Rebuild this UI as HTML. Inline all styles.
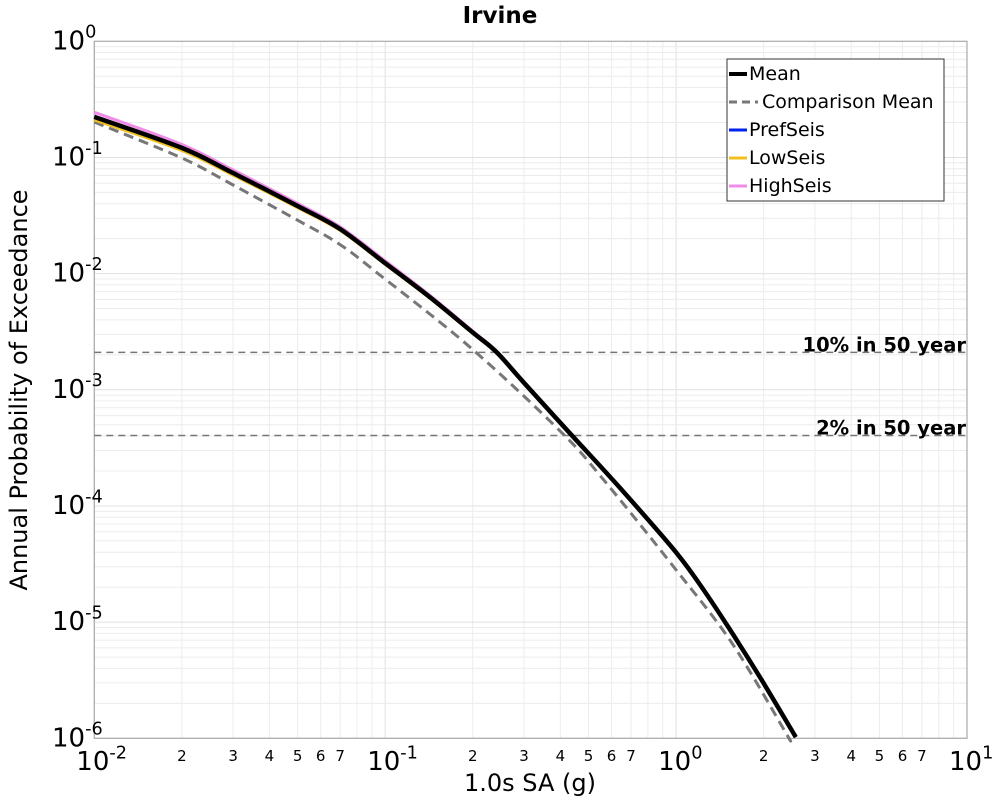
<!DOCTYPE html>
<html><head><meta charset="utf-8"><style>
body{margin:0;background:#fff;font-family:"DejaVu Sans","Liberation Sans",sans-serif;}
svg text{font-family:"DejaVu Sans","Liberation Sans",sans-serif;}
</style></head><body>
<svg id="chart" width="1000" height="800">
<g id="grid"></g><g id="axes"></g><g id="series"></g>
<text x="500" y="23" text-anchor="middle" font-size="23" font-weight="bold">Irvine</text>
<text x="530" y="791" text-anchor="middle" font-size="24">1.0s SA (g)</text>
<text transform="translate(27,390) rotate(-90)" text-anchor="middle" font-size="24">Annual Probability of Exceedance</text>
<g>
<rect x="727" y="59" width="217" height="142" fill="#fff" stroke="#333" stroke-width="1"/>
<line x1="729" y1="74" x2="747" y2="74" stroke="#000" stroke-width="4"/><text x="749" y="80" font-size="19">Mean</text>
<line x1="729" y1="102" x2="758" y2="102" stroke="#777" stroke-width="3" stroke-dasharray="8,5"/><text x="762" y="108" font-size="19">Comparison Mean</text>
<line x1="729" y1="130" x2="747" y2="130" stroke="#0022ee" stroke-width="3"/><text x="749" y="136" font-size="19">PrefSeis</text>
<line x1="729" y1="158" x2="747" y2="158" stroke="#f0c020" stroke-width="3"/><text x="749" y="164" font-size="19">LowSeis</text>
<line x1="729" y1="186" x2="747" y2="186" stroke="#f08ce8" stroke-width="3"/><text x="749" y="192" font-size="19">HighSeis</text>
</g>
</svg>
<script>
const xVals=[0.01,0.02,0.03,0.05,0.07,0.1,0.142,0.2,0.241,0.3,0.43,0.637,1.0,1.265,1.555,1.97,2.58];
const meanLog=[-0.651,-0.918,-1.134,-1.418,-1.616,-1.91,-2.20,-2.507,-2.674,-2.94,-3.37,-3.836,-4.40,-4.75,-5.09,-5.50,-5.99];
const highLog=[-0.611,-0.888,-1.108,-1.396,-1.598,-1.89,-2.185,-2.495,-2.664,-2.932,-3.365,-3.834,-4.40,-4.75,-5.09,-5.50,-5.99];
const lowLog=[-0.676,-0.94,-1.152,-1.432,-1.628,-1.92,-2.21,-2.515,-2.682,-2.946,-3.376,-3.84,-4.40,-4.75,-5.09,-5.50,-5.99];
const prefLog=[-0.651,-0.918,-1.134,-1.418,-1.616,-1.91,-2.20,-2.507,-2.674,-2.94,-3.37,-3.836,-4.40,-4.75,-5.09,-5.50,-5.99];
const compX=[0.01,0.02,0.03,0.05,0.07,0.0957,0.195,0.405,0.574,1.0,1.555,2.38,2.44];
const compLog=[-0.695,-1.005,-1.237,-1.54,-1.75,-2.01,-2.63,-3.37,-3.80,-4.55,-5.18,-5.95,-6.0];
const refProbs=[0.0021,0.000404];
const refLabels=["10% in 50 year","2% in 50 year"];
const xMajor=["-2","-1","0","1"];
const yMajor=["0","-1","-2","-3","-4","-5","-6"];
const minorLabels=["2","3","4","5","6","7"];
const L=94.3,R=967,T=41.3,B=738.3;
const sx=v=>L+(Math.log10(v)+2)/3*(R-L);
const sy=lg=>T+(-lg)/6*(B-T);
const NS="http://www.w3.org/2000/svg";
function mk(t,p,a){const e=document.createElementNS(NS,t);for(const k in a)e.setAttribute(k,a[k]);p.appendChild(e);return e;}
const grid=document.getElementById('grid'),axes=document.getElementById('axes'),ser=document.getElementById('series');
for(let d=-2;d<1;d++)for(let m=1;m<10;m++){const x=sx(m*Math.pow(10,d));
 const g=mk('line',grid,{x1:x,x2:x,y1:T,y2:B,stroke:m==1?'#e0e0e0':'#ececec','stroke-width':1});
 
 }
for(let d=-6;d<0;d++)for(let m=1;m<10;m++){const y=sy(d+Math.log10(m));
 const g=mk('line',grid,{x1:L,x2:R,y1:y,y2:y,stroke:m==1?'#e0e0e0':'#ececec','stroke-width':1});
 
 }
const frame=mk('rect',axes,{x:L,y:T,width:R-L,height:B-T,fill:'none',stroke:'#aaa','stroke-width':1.2});


function pow(p,x,y,exp,anchor,fs){const t=mk('text',p,{x:x,y:y,'font-size':fs,'text-anchor':anchor});
 t.appendChild(document.createTextNode('10'));
 const s=mk('tspan',t,{dy:-fs*0.45,'font-size':fs*0.68});s.textContent=exp;return t;}
yMajor.forEach((e,i)=>{const t=pow(axes,52,sy(-i)+8,e,'start',26);
 
 });
xMajor.forEach((e,i)=>{const t=pow(axes,sx(Math.pow(10,i-2))-18,770,e,'start',26);
 
 });
for(let d=-2;d<1;d++)minorLabels.forEach(m=>{const t=mk('text',axes,{x:sx(+m*Math.pow(10,d)),y:761,'font-size':15,'text-anchor':'middle'});t.textContent=m;
 
 });
refProbs.forEach((p,i)=>{const y=sy(Math.log10(p));
 const l=mk('line',ser,{x1:L,x2:R,y1:y,y2:y,stroke:'#777','stroke-width':1.5,'stroke-dasharray':'7,5'});
 
 
 const t=mk('text',ser,{x:966,y:y-1,'font-size':19.5,'font-weight':'bold','text-anchor':'end'});t.textContent=refLabels[i];
 
 });
function path(xs,ls,attrs,name){
 const P=xs.map((x,i)=>[sx(x),sy(ls[i])]);
 let d='M'+P[0][0].toFixed(1)+','+P[0][1].toFixed(1);
 for(let i=0;i<P.length-1;i++){const p0=P[Math.max(i-1,0)],p1=P[i],p2=P[i+1],p3=P[Math.min(i+2,P.length-1)];
  const c1=[p1[0]+(p2[0]-p0[0])/6,p1[1]+(p2[1]-p0[1])/6],c2=[p2[0]-(p3[0]-p1[0])/6,p2[1]-(p3[1]-p1[1])/6];
  d+=' C'+c1[0].toFixed(1)+','+c1[1].toFixed(1)+' '+c2[0].toFixed(1)+','+c2[1].toFixed(1)+' '+p2[0].toFixed(1)+','+p2[1].toFixed(1);}
 attrs.d=d;attrs.fill='none';attrs['stroke-linejoin']='round';const p=mk('path',ser,attrs);
 
 }
path(compX,compLog,{stroke:'#777','stroke-width':3,'stroke-dasharray':'10,6'},'comparison-mean-line');
path(xVals,highLog,{stroke:'#f08ce8','stroke-width':3},'highseis-line');
path(xVals,lowLog,{stroke:'#f0c020','stroke-width':3},'lowseis-line');
path(xVals,prefLog,{stroke:'#0022ee','stroke-width':3},'prefseis-line');
path(xVals,meanLog,{stroke:'#000','stroke-width':4.5},'mean-line');
</script>
</body></html>
